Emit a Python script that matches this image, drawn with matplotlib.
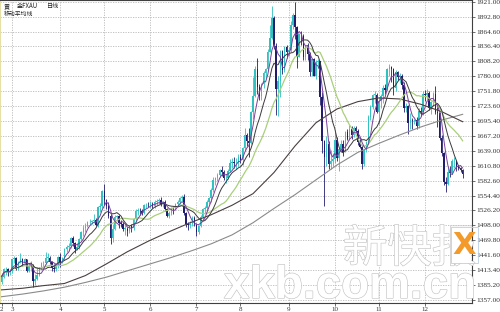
import numpy as np
import pandas as pd
import matplotlib
matplotlib.use("Agg")
import matplotlib.pyplot as plt
from matplotlib.patches import Rectangle
import matplotlib.patheffects as pe

# ---------------- data (daily gold FXAU, Feb 22 - Dec 27 2011) ----------------
month_labels = ['2', '3', '4', '5', '6', '7', '8', '9', '10', '11', '12']
month_bars = [5, 23, 21, 22, 22, 21, 23, 22, 21, 22, 19]

first_open = 1390

close_feb = [1401, 1415, 1416, 1409, 1411]
high_feb = [1405, 1417, 1419, 1418, 1415]
low_feb = [1388, 1398, 1404, 1403, 1404]

close_mar = [1434, 1437, 1416, 1429, 1434, 1427, 1434, 1412, 1421, 1421, 1393, 1396,
             1404, 1419, 1426, 1427, 1437, 1437, 1428, 1417, 1416, 1424, 1439]
high_mar = [1435, 1440, 1438, 1431, 1445, 1437, 1436, 1435, 1424, 1431, 1425, 1406,
            1420, 1420, 1429, 1431, 1447, 1445, 1440, 1430, 1424, 1427, 1440]
low_mar = [1408, 1427, 1413, 1413, 1426, 1422, 1425, 1409, 1410, 1411, 1381, 1385,
           1394, 1402, 1415, 1419, 1424, 1430, 1424, 1412, 1410, 1411, 1418]

close_apr = [1429, 1437, 1453, 1457, 1459, 1474, 1464, 1453, 1457, 1472, 1486, 1493,
             1496, 1504, 1505, 1506, 1508, 1498, 1532, 1535, 1563]
high_apr = [1446, 1439, 1455, 1461, 1465, 1476, 1477, 1466, 1464, 1474, 1487, 1498,
            1503, 1507, 1510, 1509, 1519, 1512, 1534, 1541, 1564]
low_apr = [1420, 1426, 1432, 1448, 1450, 1456, 1458, 1446, 1451, 1453, 1470, 1478,
           1486, 1494, 1498, 1500, 1502, 1497, 1495, 1524, 1531]

close_may = [1545, 1535, 1516, 1474, 1492, 1513, 1516, 1502, 1500, 1492, 1492, 1488,
             1496, 1493, 1510, 1526, 1526, 1525, 1522, 1536, 1537, 1536]
high_may = [1577, 1548, 1543, 1520, 1500, 1517, 1518, 1518, 1509, 1504, 1498, 1495,
            1499, 1500, 1512, 1528, 1530, 1530, 1528, 1538, 1540, 1542]
low_may = [1536, 1528, 1512, 1462, 1467, 1490, 1506, 1493, 1494, 1488, 1480, 1478,
           1484, 1486, 1490, 1505, 1518, 1517, 1518, 1519, 1530, 1532]

close_jun = [1539, 1534, 1542, 1544, 1545, 1538, 1542, 1529, 1516, 1522, 1531, 1530,
             1539, 1543, 1549, 1552, 1521, 1501, 1499, 1500, 1512, 1501]
high_jun = [1544, 1543, 1545, 1547, 1549, 1551, 1544, 1545, 1530, 1526, 1532, 1534,
            1541, 1546, 1551, 1555, 1558, 1524, 1505, 1506, 1516, 1515]
low_jun = [1530, 1530, 1530, 1536, 1538, 1534, 1532, 1525, 1513, 1512, 1518, 1520,
           1527, 1533, 1539, 1544, 1518, 1495, 1490, 1493, 1497, 1497]

close_jul = [1486, 1497, 1514, 1529, 1531, 1542, 1549, 1564, 1584, 1588, 1594, 1602,
             1598, 1587, 1587, 1601, 1616, 1617, 1615, 1616, 1628]
high_jul = [1503, 1499, 1517, 1531, 1534, 1545, 1551, 1568, 1589, 1590, 1597, 1605,
            1610, 1602, 1595, 1605, 1624, 1625, 1627, 1626, 1632]
low_jul = [1478, 1482, 1494, 1509, 1521, 1525, 1538, 1543, 1561, 1575, 1581, 1589,
           1591, 1584, 1578, 1585, 1599, 1606, 1606, 1604, 1610]

close_aug = [1622, 1644, 1668, 1658, 1653, 1713, 1742, 1794, 1760, 1743, 1765, 1786,
             1793, 1826, 1852, 1891, 1838, 1756, 1771, 1828, 1791, 1835, 1826]
high_aug = [1632, 1646, 1682, 1673, 1683, 1715, 1778, 1800, 1814, 1765, 1767, 1790,
            1795, 1831, 1877, 1912, 1893, 1842, 1780, 1830, 1830, 1838, 1840]
low_aug = [1615, 1613, 1639, 1648, 1628, 1652, 1700, 1740, 1747, 1735, 1735, 1758,
           1776, 1790, 1825, 1850, 1832, 1706, 1705, 1741, 1785, 1788, 1815]

close_sep = [1829, 1877, 1896, 1873, 1817, 1860, 1856, 1817, 1836, 1822, 1788, 1812,
             1781, 1807, 1808, 1741, 1657, 1628, 1651, 1614, 1620, 1624]
high_sep = [1835, 1884, 1900, 1921, 1875, 1862, 1865, 1860, 1840, 1843, 1825, 1815,
            1815, 1810, 1812, 1808, 1750, 1660, 1667, 1658, 1640, 1635]
low_sep = [1819, 1825, 1870, 1850, 1795, 1816, 1839, 1810, 1810, 1811, 1780, 1780,
           1780, 1775, 1795, 1725, 1635, 1535, 1610, 1605, 1605, 1610]

close_oct = [1660, 1626, 1642, 1651, 1636, 1674, 1662, 1681, 1669, 1683, 1676, 1656,
             1646, 1614, 1640, 1655, 1703, 1722, 1745, 1745, 1712]
high_oct = [1675, 1665, 1645, 1660, 1660, 1677, 1680, 1687, 1686, 1686, 1686, 1680,
            1661, 1650, 1643, 1658, 1706, 1725, 1747, 1752, 1748]
low_oct = [1615, 1620, 1600, 1638, 1629, 1636, 1660, 1660, 1662, 1665, 1673, 1650,
           1645, 1604, 1610, 1637, 1652, 1697, 1718, 1730, 1710]

close_nov = [1734, 1742, 1758, 1754, 1794, 1797, 1793, 1758, 1788, 1778, 1781, 1764,
             1719, 1724, 1691, 1697, 1696, 1697, 1685, 1714, 1713, 1746]
high_nov = [1740, 1747, 1764, 1766, 1796, 1803, 1800, 1796, 1792, 1790, 1786, 1785,
            1770, 1730, 1725, 1710, 1701, 1700, 1702, 1719, 1722, 1752]
low_nov = [1690, 1720, 1730, 1747, 1753, 1780, 1770, 1745, 1752, 1773, 1768, 1756,
           1712, 1712, 1670, 1680, 1680, 1690, 1680, 1682, 1705, 1707]

close_dec = [1744, 1748, 1720, 1731, 1746, 1712, 1711, 1664, 1634, 1580, 1576, 1598,
             1597, 1619, 1620, 1608, 1606, 1603, 1595]
high_dec = [1754, 1755, 1752, 1733, 1750, 1762, 1722, 1712, 1669, 1637, 1590, 1609,
            1610, 1624, 1628, 1622, 1612, 1609, 1605]
low_dec = [1733, 1735, 1716, 1708, 1723, 1708, 1684, 1660, 1630, 1575, 1562, 1575,
           1590, 1596, 1606, 1600, 1602, 1598, 1588]

# long moving averages every 10 bars
ma_sample_bars = list(range(0, 221, 10))
ma60_values = [1376, 1379, 1384, 1388, 1403, 1425, 1448, 1468, 1486, 1503, 1518, 1536,
               1558, 1598, 1648, 1692, 1718, 1732, 1739, 1737, 1727, 1713, 1694]
ma120_values = [1363, 1368, 1374, 1381, 1390, 1400, 1412, 1424, 1436, 1449, 1463, 1480,
                1503, 1530, 1556, 1584, 1612, 1636, 1653, 1669, 1684, 1697, 1708]

y_tick_labels = ['1357.00', '1385.20', '1413.40', '1441.60', '1469.80', '1498.00',
                 '1526.20', '1554.40', '1582.60', '1610.80', '1639.00', '1667.20',
                 '1695.40', '1723.60', '1751.80', '1780.00', '1808.20', '1836.40',
                 '1864.60', '1892.80', '1921.00']

# ---------------- assemble ----------------
closes = np.array(close_feb + close_mar + close_apr + close_may + close_jun + close_jul +
                  close_aug + close_sep + close_oct + close_nov + close_dec, float)
highs = np.array(high_feb + high_mar + high_apr + high_may + high_jun + high_jul +
                 high_aug + high_sep + high_oct + high_nov + high_dec, float)
lows = np.array(low_feb + low_mar + low_apr + low_may + low_jun + low_jul +
                low_aug + low_sep + low_oct + low_nov + low_dec, float)
opens = np.r_[first_open, closes[:-1]]
highs = np.maximum(highs, np.maximum(opens, closes))
lows = np.minimum(lows, np.minimum(opens, closes))
n = len(closes)
x = np.arange(n)

s = pd.Series(closes)
ma5 = s.rolling(5, min_periods=1).mean()
ma10 = s.rolling(10, min_periods=1).mean()
ma20 = s.rolling(20, min_periods=1).mean()

plt.rcParams['font.family'] = ['Liberation Serif', 'DejaVu Sans']

fig = plt.figure(figsize=(5.0, 3.12), dpi=100)
fig.patch.set_facecolor('white')
ax = fig.add_axes([0.0, 0.0298, 0.944, 0.9702])
ax.set_facecolor('white')

ax.set_xlim(-0.73, 224.46)
ax.set_ylim(1351.7, 1924.2)

# grid
yt = [float(v) for v in y_tick_labels]
for v in yt:
    ax.axhline(v, color='#b8b8b8', lw=0.6, ls=(0, (1.5, 1.5)), zorder=0)
starts = np.r_[0, np.cumsum(month_bars)[:-1]]
for st in starts[1:]:
    ax.axvline(st, color='#b8b8b8', lw=0.6, ls=(0, (1.5, 1.5)), zorder=0)

up_col = '#2fc2c0'
dn_col = '#221c6e'
up = closes >= opens
cols = np.where(up, up_col, dn_col)
ax.vlines(x, lows, highs, colors=cols, lw=0.6, zorder=2)
body_bottom = np.minimum(opens, closes)
body_h = np.maximum(np.abs(closes - opens), 0.8)
ax.bar(x, body_h, bottom=body_bottom, width=0.7, color=cols, linewidth=0, zorder=3)

ax.plot(ma_sample_bars, ma120_values, color='#8a8a8a', lw=0.8, zorder=4)
ax.plot(ma_sample_bars, ma60_values, color='#4a3f3f', lw=0.8, zorder=4)
ax.plot(x, ma20, color='#a9cf7a', lw=0.9, zorder=4)
ax.plot(x, ma10, color='#3a3a3a', lw=0.7, zorder=5)
ax.plot(x, ma5, color='#7a3f9a', lw=0.7, zorder=5)

# axes styling
ax.yaxis.tick_right()
ax.set_yticks(yt)
ax.set_yticklabels(y_tick_labels, fontsize=5.3, color='#333333')
ax.tick_params(axis='y', length=2, width=0.5, pad=1.2, colors='#333333')
ax.set_xticks(starts)
ax.set_xticklabels(month_labels, fontsize=5.0, color='#333333')
ax.tick_params(axis='x', length=2, width=0.5, pad=0.8, colors='#333333')
for side in ['right', 'bottom', 'top']:
    ax.spines[side].set_color('#404040')
    ax.spines[side].set_linewidth(0.8)
ax.spines['left'].set_color('#e6dfa6')
ax.spines['left'].set_linewidth(1.5)

# header
cjk = ['Noto Sans CJK SC', 'DejaVu Sans']
ax.text(0.008, 0.992, '黄', transform=ax.transAxes, fontsize=4.4, family=cjk, va='top', ha='left', color='#222222')
ax.text(0.036, 0.992, '金FXAU', transform=ax.transAxes, fontsize=4.4, family=cjk, va='top', ha='left', color='#222222')
ax.text(0.100, 0.992, '日线', transform=ax.transAxes, fontsize=4.4, family=cjk, va='top', ha='left', color='#222222')
ax.text(0.008, 0.963, '移动平均线', transform=ax.transAxes, fontsize=4.2, family=cjk, va='top', ha='left', color='#222222')

# watermark
outline = [pe.withStroke(linewidth=0.9, foreground='#c4c4c4')]
fig.text(343 / 500, 1 - 272 / 312, '新快报', fontsize=32, family=cjk, color='white',
         ha='left', va='bottom', path_effects=outline, zorder=10)
fig.patches.append(Rectangle((452 / 500, 1 - 263 / 312), 19 / 500, 36 / 312,
                             transform=fig.transFigure, facecolor='white',
                             edgecolor='none', zorder=11))
fig.patches.append(Rectangle((451 / 500, 1 - 263 / 312), 27 / 500, 36 / 312,
                             transform=fig.transFigure, facecolor='none',
                             edgecolor='#bcd0e4', lw=0.6, zorder=11))
fig.text(464 / 500, 1 - 245 / 312, 'X', fontsize=22, family='DejaVu Sans', weight='bold',
         color='#f39a2a', ha='center', va='center', zorder=12)
fig.text(224 / 500, 1 - 298 / 312, 'xkb.com.cn', fontsize=33, family='Liberation Sans',
         weight='bold', color='white', ha='left', va='baseline',
         path_effects=outline, zorder=10)

fig.savefig('out.png', dpi=100, facecolor='white')
